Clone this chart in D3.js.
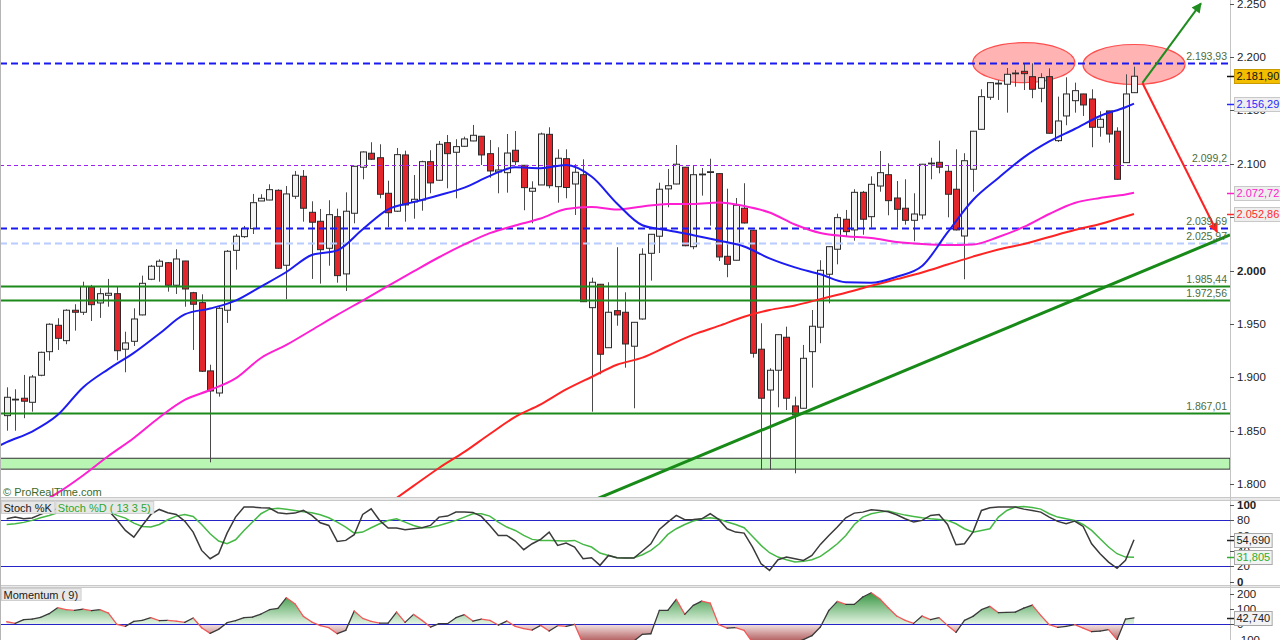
<!DOCTYPE html>
<html>
<head>
<meta charset="utf-8">
<script src="https://cdn.jsdelivr.net/npm/d3@7"></script>
<style>
  html, body { margin: 0; padding: 0; background: #fff; }
  svg { display: block; font-family: "Liberation Sans", Arial, sans-serif; }
</style>
</head>
<body>
<svg id="chart" width="1280" height="640"></svg>
<script>
// ---- Daily candles (index points) ----
const openP = [1864.1,1879.0,1880.4,1876.6,1901.9,1924.0,1948.7,1934.3,1962.8,1960.9,
1984.6,1969.6,1976.8,1978.3,1926.3,1933.7,1958.4,1991.8,2004.0,2007.3,
1986.2,2008.9,1979.2,1969.9,1906.0,1885.3,1962.8,2018.9,2031.7,2039.2,
2065.1,2066.0,2075.1,2004.9,2069.5,2088.2,2054.5,2046.1,2020.8,2050.4,
1996.8,2053.6,2096.7,2109.8,2105.6,2072.3,2055.5,2108.2,2064.2,2066.0,
2101.9,2084.5,2119.7,2110.7,2116.3,2121.3,2125.7,2109.4,2092.3,2091.6,
2112.6,2098.5,2074.2,2080.1,2127.5,2078.5,2104.7,2081.0,2089.7,1965.2,
1987.1,1927.7,1962.4,1960.9,1929.1,1954.6,2016.1,2032.1,2076.4,2081.0,
2096.7,2022.3,2089.8,2092.0,2090.7,2013.3,2009.6,2058.3,2037.7,1926.3,
1888.1,1906.6,1937.5,1873.2,1871.0,1924.0,1946.9,1996.5,2019.9,2048.0,
2038.0,2073.2,2050.4,2079.1,2089.7,2067.9,2058.3,2047.0,2052.0,2099.8,
2101.3,2092.9,2076.1,2032.3,2094.8,2132.2,2162.2,2174.9,2174.4,2184.4,
2186.5,2181.5,2170.6,2181.5,2121.6,2144.7,2159.0,2165.3,2160.6,2134.1,
2149.4,2130.4,2101.0,2166.5];
const highP = [1890.6,1888.8,1902.2,1902.2,1924.0,1950.6,1955.3,1963.7,1968.4,1989.5,
1986.5,1983.4,1992.1,1985.5,1942.7,1964.6,1995.2,2005.2,2010.5,2008.0,
2019.9,2009.0,1980.0,1977.7,1911.8,1966.1,2019.2,2034.2,2041.7,2071.7,
2071.4,2080.7,2076.0,2079.1,2093.2,2094.1,2064.8,2057.6,2065.8,2057.9,
2073.2,2097.9,2111.5,2120.1,2118.2,2084.1,2114.7,2112.2,2089.4,2102.8,
2112.6,2121.3,2126.9,2122.9,2125.3,2136.3,2126.0,2122.2,2115.4,2127.8,
2130.6,2098.8,2083.5,2129.1,2134.1,2113.5,2113.5,2099.5,2104.1,1993.3,
1987.4,1989.0,2021.8,1979.6,1951.8,2020.8,2034.2,2082.2,2095.1,2117.5,
2097.0,2098.5,2096.0,2104.7,2091.0,2076.6,2067.9,2081.7,2038.0,1950.6,
1908.5,1940.1,1947.4,1881.9,1930.3,1963.0,2009.6,2022.5,2053.2,2056.7,
2076.1,2074.5,2088.2,2111.9,2100.4,2083.8,2085.4,2072.3,2099.8,2105.6,
2121.6,2098.8,2113.5,2109.8,2130.7,2169.7,2176.1,2178.4,2189.6,2187.8,
2194.0,2194.0,2184.7,2189.3,2162.8,2180.9,2175.9,2165.5,2169.7,2149.1,
2149.6,2134.1,2183.7,2190.8];
const lowP = [1850.0,1850.0,1861.7,1867.8,1901.0,1915.6,1925.6,1931.0,1943.7,1958.4,
1952.7,1955.6,1966.1,1915.9,1904.7,1929.3,1958.0,1991.0,1989.5,1980.2,
1978.0,1966.1,1925.6,1905.0,1820.4,1881.9,1950.9,2000.8,2030.5,2034.2,
2065.0,2065.8,2001.5,1973.1,2067.0,2045.7,1992.1,1987.7,2004.5,1988.6,
1980.8,2044.2,2085.4,2103.5,2067.6,2040.5,2054.8,2045.7,2048.5,2056.0,
2072.3,2084.0,2077.0,2067.6,2115.7,2121.0,2098.8,2086.9,2072.3,2072.9,
2098.8,2056.4,2044.2,2080.0,2077.0,2063.5,2067.6,2052.0,1970.5,1867.8,
1902.8,1927.5,1948.3,1909.0,1871.0,1954.0,1990.5,2016.4,2059.2,2080.7,
2022.7,2019.9,2070.1,2042.0,2008.9,1993.7,2009.4,2044.0,1918.4,1813.2,
1813.2,1871.9,1869.4,1810.1,1870.8,1890.3,1931.9,1969.3,2005.8,2031.7,
2027.9,2033.5,2040.1,2073.8,2051.7,2040.1,2042.9,2027.4,2048.0,2085.4,
2091.0,2049.8,2037.5,1991.8,2073.8,2132.0,2159.7,2159.7,2147.8,2172.1,
2169.0,2161.3,2157.5,2128.3,2120.3,2136.0,2147.8,2144.7,2115.4,2125.3,
2119.7,2084.8,2100.8,2166.2];
const closeP = [1881.3,1879.5,1877.6,1900.3,1923.4,1949.7,1936.5,1962.8,1960.9,1984.9,
1968.0,1978.3,1978.7,1924.9,1932.2,1954.6,1988.0,2004.0,2008.7,1986.2,
2010.8,1982.7,1968.4,1905.7,1887.2,1964.6,2018.0,2032.1,2039.5,2063.5,
2067.6,2075.7,2002.1,2071.7,2089.2,2058.3,2045.2,2019.5,2052.3,1995.2,
2055.5,2097.6,2111.0,2104.2,2071.4,2054.1,2108.5,2061.4,2066.7,2101.9,
2082.0,2118.2,2109.4,2116.0,2123.2,2126.6,2108.2,2093.2,2094.1,2110.0,
2101.9,2077.6,2077.0,2127.8,2079.4,2105.1,2077.7,2092.0,1970.8,1989.0,
1921.6,1960.9,1958.4,1931.2,1951.5,2015.2,2033.9,2076.1,2079.4,2099.5,
2023.2,2089.7,2090.3,2092.5,2012.7,2005.8,2061.1,2044.5,1922.5,1880.4,
1906.6,1939.9,1880.4,1864.7,1917.8,1947.8,2000.2,2022.3,2049.5,2036.4,
2073.2,2048.0,2080.7,2091.6,2065.4,2057.3,2047.0,2052.9,2099.5,2100.6,
2096.7,2071.4,2038.0,2102.8,2130.4,2162.8,2175.9,2175.4,2183.7,2184.9,
2184.3,2169.7,2180.6,2128.5,2140.0,2165.3,2168.4,2155.0,2134.1,2141.6,
2127.8,2085.4,2165.3,2181.9];

// ---- Moving averages (candle index, value) ----
const ma20Idx = [-1,0,3,6,9,12,15,18,21,24,27,30,33,36,39,42,45,48,51,54,57,60,63,66,69,72,75,78,81,84,87,90,93,96,99,102,105,108,111,114,117,120,123,126,129,132,133];
const ma20Val = [1835.5,1839.3,1849.2,1864.6,1890.5,1907.7,1922.9,1940.8,1958.9,1964.4,1971.8,1985.0,1998.6,2014.5,2018.8,2038.6,2057.3,2064.0,2070.4,2077.6,2088.6,2096.7,2095.8,2098.8,2088.0,2062.8,2042.4,2037.6,2033.1,2028.1,2022.5,2011.3,2002.9,1996.5,1989.0,1988.6,1994.2,2004.2,2035.6,2066.0,2086.6,2105.9,2120.8,2132.5,2144.7,2152.9,2156.29];
const ma50Idx = [5,6,9,12,15,18,21,24,27,30,33,36,39,42,45,48,51,54,57,60,63,66,69,72,75,78,81,84,87,90,93,96,99,102,105,108,111,114,117,120,123,126,129,132,133];
const ma50Val = [1787.0,1791.7,1808.1,1826.3,1843.2,1862.4,1878.8,1888.1,1899.0,1918.1,1930.3,1944.3,1958.4,1971.9,1985.5,1999.1,2012.4,2024.4,2035.0,2042.2,2048.7,2057.6,2059.5,2057.1,2060.0,2062.3,2062.3,2063.7,2060.4,2054.3,2043.1,2035.1,2032.1,2030.5,2026.7,2024.8,2023.9,2024.4,2031.4,2040.8,2052.9,2063.2,2067.9,2071.2,2072.72];
const ma100Idx = [46,48,51,54,57,60,63,66,69,72,75,78,81,84,87,90,93,96,99,102,105,108,111,114,117,120,123,126,129,132,133];
const ma100Val = [1787.0,1798.3,1815.1,1830.1,1846.9,1862.9,1874.6,1888.6,1900.3,1911.7,1918.4,1929.3,1939.9,1948.1,1956.7,1963.0,1967.3,1973.2,1979.2,1985.7,1991.9,1998.2,2005.6,2013.0,2019.7,2024.8,2031.4,2037.9,2043.6,2050.6,2052.86];

// ---- Horizontal levels ----
const levels = [2193.93, 2099.2, 2039.69, 2025.97, 1985.44, 1972.56, 1867.01];
const supportBand = [1814.0, 1824.2];

// ---- Drawn annotations (candle index, value) ----
const trendIdx = [92, 116];
const trendVal = [1860.2, 1939.6];
const arrowIdx = [134, 140.9, 142.8];       // start, up target, down target
const arrowVal = [2175.6, 2250.2, 2036.1];
const ellipseIdx = [120, 133];
const ellipseVal = [2194.6, 2192.9];

// ---- Stochastic (13 3 5) ----
const stochK = [82,84.2,82,83,87.7,92,95,95,93,96,
97,95,92.9,80.7,66.8,58.1,73.3,87.7,94.2,89.9,
87.7,79,64.6,40.7,29.9,36.4,63.3,84.2,97.3,97.3,
96.4,96,89.9,88.6,89.4,92.9,86.4,76.8,73.3,52.5,
53.8,61.2,87.7,95.1,79.9,69.9,69.9,67.7,69,70.3,
73.3,84.2,85.5,90.7,90.7,90.3,85.1,73.3,60.3,60.3,
52.9,41.6,49.4,55.1,64.6,47.3,50.3,45.1,29.9,31.2,
21.2,34.2,31.2,30.7,30.7,39.9,49.4,68.1,77.7,86.4,
80.7,81.2,82,88.6,81.2,69,64.6,63.3,45.1,23.3,
14.6,28.6,32,29.9,27.7,34.2,48.6,60.3,71.2,83.3,
89.4,90.7,93.8,92.9,91.2,87.3,82,77.7,79.9,86.4,
87.7,74.6,48.1,49.4,64.6,92.9,96.4,97.3,97.3,97.3,
94.6,92.9,90.7,84.2,78.6,75.5,79,72,49.4,36.4,
25.5,17.3,27.7,54.69];
const stochD = [74.6,75.5,77.3,79.9,83.3,86.4,89.9,91,93,94,
95,94,92,86.4,82.9,76.4,72,71.2,74.6,80.7,
85.5,87.7,85.1,74.6,62.5,52.9,49.4,54.6,66.8,77.7,
88.6,94.6,95.9,94.6,92.9,91.2,89.9,87.3,83.3,77.7,
71.2,63.3,64.6,70.3,75.5,79.9,82,77.7,73.3,70.3,
70.7,73.3,76.4,79.9,84.2,88.6,88.6,85.5,77.7,71.2,
66.8,60.3,55.1,53.8,53.8,53.3,52.9,53.8,48.6,45.1,
37.3,34.2,31.2,30.7,31.2,35.1,40.7,49.4,61.6,69,
74.6,79,82,83.3,81.6,77.7,74.6,70.3,59,47.3,
37.7,32,28.6,25.5,26.4,28.6,32.9,40.7,49.4,60.3,
74.6,84.2,88.6,90.7,92,89.4,86.8,85.1,83.3,82,
81.2,79.9,75.5,69,64.6,66.8,69,84.2,92.9,97.3,
98.1,96.8,94.6,88.6,84.2,82,79.9,74.6,66.8,56,
45.1,36.4,32,31.805];
const stochBands = [80, 20];
const stochTicks = [0, 20, 40, 60, 80, 100];

// ---- Momentum (9) ----
const momentum = [17,6.3,30.5,35,46,70,109.6,96.4,92,100.8,
89.8,96.4,74.4,0,-13.4,19.5,26.1,43.7,23.9,26.1,
21.7,12.9,41.5,-22.2,-59.6,-33.2,10.8,23.9,43.7,48.1,
67.9,96.4,105.2,175.5,136,52.5,15.1,-9,-22.2,-61.8,
-39.8,87.6,39.3,19.5,8.5,8.5,81,12.9,65.7,26.1,
-17.8,4.1,4.1,43.7,63.5,21.7,35,26.1,-4.7,21.7,
-13.4,-28.8,-37.6,-6.9,-44.2,-9,-13.4,0,-128,-150,
-160,-155,-140,-120,-110,-66,-62,92,92,164.5,
65.7,125,153.5,140.4,-2.5,-24.4,-22.2,-39.8,-120,-150,
-170,-165,-140,-120,-101,-75,-17.8,92,151.3,131.6,
131.6,180,208.5,169,109.6,54.7,26.1,6.3,54.7,30.5,
43.7,-6.9,-53,26.1,52.5,96.4,118.4,76.6,78.8,81,
107.4,127.2,59.1,-2.5,-20,-13.4,-2.5,-24.4,-48.6,-44.2,
-35.4,-101,35,42.74];
const momTicks = [-100, 0, 100, 200];

const priceTicks = [1800, 1850, 1900, 1950, 2000, 2050, 2100, 2150, 2200, 2250];

// ---------------- layout ----------------
const svg = d3.select("#chart");
const plotR = 1230;
const mainP = { top: 0, bottom: 497 };
const stochP = { top: 501, bottom: 585 };
const momP = { top: 588, bottom: 640 };

const x = d3.scaleLinear().domain([0, 133]).range([6.7, 1134]);
const y = d3.scaleLinear().domain([1800, 2250]).range([484.1, 3.5]);
const yS = d3.scaleLinear().domain([0, 100]).range([581.6, 505]);
const yM = d3.scaleLinear().domain([-100, 200]).range([639.5, 594]);

const loc = d3.formatLocale({ decimal: ",", thousands: ".", grouping: [3], currency: ["", ""], minus: "-" });
const fAxis = loc.format(",.0f");
const fLevel = loc.format(",.2~f");
const fTag2 = loc.format(",.2f");
const fTag3 = loc.format(",.3f");

const defs = svg.append("defs");
function clip(id, top, bottom) {
  defs.append("clipPath").attr("id", id).append("rect")
    .attr("x", 0).attr("y", top).attr("width", plotR).attr("height", bottom - top);
}
clip("clipMain", mainP.top, mainP.bottom);
clip("clipStoch", stochP.top, stochP.bottom);
clip("clipMom", momP.top, momP.bottom);

// gradients for momentum fills
const gUp = defs.append("linearGradient").attr("id", "momUp")
  .attr("gradientUnits", "userSpaceOnUse").attr("x1", 0).attr("x2", 0)
  .attr("y1", yM(200)).attr("y2", yM(0));
gUp.append("stop").attr("offset", 0).attr("stop-color", "#3f9a48");
gUp.append("stop").attr("offset", 1).attr("stop-color", "#e4f4e4");
const gDn = defs.append("linearGradient").attr("id", "momDn")
  .attr("gradientUnits", "userSpaceOnUse").attr("x1", 0).attr("x2", 0)
  .attr("y1", yM(0)).attr("y2", yM(-100));
gDn.append("stop").attr("offset", 0).attr("stop-color", "#f3e2e2");
gDn.append("stop").attr("offset", 1).attr("stop-color", "#b86a6a");

// arrow heads
function marker(id, color) {
  defs.append("marker").attr("id", id).attr("viewBox", "0 0 10 10")
    .attr("refX", 9).attr("refY", 5).attr("markerWidth", 12).attr("markerHeight", 10)
    .attr("markerUnits", "userSpaceOnUse").attr("orient", "auto")
    .append("path").attr("d", "M0,0 L10,5 L0,10 z").attr("fill", color);
}
marker("headGreen", "#1e8c1e");
marker("headRed", "#ff2020");

svg.append("rect").attr("width", 1280).attr("height", 640).attr("fill", "#fff");

// ---------------- main price panel ----------------
const gMain = svg.append("g").attr("clip-path", "url(#clipMain)");

// ellipses marking the double top area
gMain.selectAll("ellipse").data(ellipseIdx).join("ellipse")
  .attr("cx", (d) => x(d)).attr("cy", (d, k) => y(ellipseVal[k]))
  .attr("rx", 51).attr("ry", 20)
  .attr("fill", "#ffb3b3").attr("stroke", "#ff4d4d").attr("stroke-width", 1.2);

// support band
gMain.append("rect")
  .attr("x", 0).attr("width", plotR)
  .attr("y", y(supportBand[1])).attr("height", y(supportBand[0]) - y(supportBand[1]))
  .attr("fill", "#b9f5b3").attr("stroke", "#333").attr("stroke-width", 1);

// candles
const candles = openP.map((o, i) => ({ i, o, h: highP[i], l: lowP[i], c: closeP[i] }));
const cx = (i) => Math.round(x(i)) + 0.5;
gMain.append("g").selectAll("line").data(candles).join("line")
  .attr("x1", (d) => cx(d.i)).attr("x2", (d) => cx(d.i))
  .attr("y1", (d) => y(d.h)).attr("y2", (d) => y(d.l))
  .attr("stroke", "#4a4a4a").attr("stroke-width", 1);
gMain.append("g").selectAll("rect").data(candles).join("rect")
  .attr("x", (d) => cx(d.i) - 3).attr("width", 6)
  .attr("y", (d) => y(Math.max(d.o, d.c)))
  .attr("height", (d) => Math.max(0.8, Math.abs(y(d.o) - y(d.c))))
  .attr("fill", (d) => (d.c >= d.o ? "#f2f2f2" : "#e3262b"))
  .attr("stroke", "#2b2b2b").attr("stroke-width", 1);

// horizontal levels
const levelStyle = [
  { stroke: "#1a1aee", width: 2, dash: "7,4" },
  { stroke: "#a020f0", width: 1.2, dash: "4,3" },
  { stroke: "#1a1aee", width: 2, dash: "7,4" },
  { stroke: "#b8ccff", width: 2, dash: "7,4" },
  { stroke: "#1b8a1b", width: 2, dash: null },
  { stroke: "#1b8a1b", width: 2, dash: null },
  { stroke: "#1b8a1b", width: 2, dash: null },
];
gMain.append("g").selectAll("line").data(levels).join("line")
  .attr("x1", 0).attr("x2", plotR)
  .attr("y1", (d) => Math.round(y(d)) + 0.5).attr("y2", (d) => Math.round(y(d)) + 0.5)
  .attr("stroke", (d, k) => levelStyle[k].stroke)
  .attr("stroke-width", (d, k) => levelStyle[k].width)
  .attr("stroke-dasharray", (d, k) => levelStyle[k].dash);

// moving averages
function maLine(idx, vals, color) {
  const pts = idx.map((d, k) => [x(d), y(vals[k])]);
  gMain.append("path").attr("d", d3.line().curve(d3.curveMonotoneX)(pts))
    .attr("fill", "none").attr("stroke", color).attr("stroke-width", 2);
}
maLine(ma100Idx, ma100Val, "#ff2424");
maLine(ma50Idx, ma50Val, "#ff1fd2");
maLine(ma20Idx, ma20Val, "#1c1cf0");

// rising trend line through two anchors, extended across the panel
const slope = (trendVal[1] - trendVal[0]) / (trendIdx[1] - trendIdx[0]);
const tv = (i) => trendVal[0] + (i - trendIdx[0]) * slope;
const iEnd = x.invert(plotR);
gMain.append("line")
  .attr("x1", x(60)).attr("y1", y(tv(60)))
  .attr("x2", x(iEnd)).attr("y2", y(tv(iEnd)))
  .attr("stroke", "#178a17").attr("stroke-width", 3);

// scenario arrows
gMain.append("line")
  .attr("x1", x(arrowIdx[0])).attr("y1", y(arrowVal[0]))
  .attr("x2", x(arrowIdx[1])).attr("y2", y(arrowVal[1]))
  .attr("stroke", "#1e8c1e").attr("stroke-width", 2).attr("marker-end", "url(#headGreen)");
gMain.append("line")
  .attr("x1", x(arrowIdx[0])).attr("y1", y(arrowVal[0]))
  .attr("x2", x(arrowIdx[2])).attr("y2", y(arrowVal[2]))
  .attr("stroke", "#ff2020").attr("stroke-width", 2).attr("marker-end", "url(#headRed)");

// level labels
svg.append("g").selectAll("text").data(levels).join("text")
  .attr("x", 1227).attr("y", (d) => y(d) - 3)
  .attr("text-anchor", "end").attr("font-size", 10.5).attr("fill", "#4d6d3c")
  .text((d) => fLevel(d));

svg.append("text").attr("x", 3).attr("y", 495.5)
  .attr("font-size", 11).attr("fill", "#3b6b2b").text("© ProRealTime.com");

// ---------------- stochastic panel ----------------
const gSt = svg.append("g").attr("clip-path", "url(#clipStoch)");
gSt.selectAll("line").data(stochBands).join("line")
  .attr("x1", 0).attr("x2", plotR)
  .attr("y1", (d) => Math.round(yS(d)) + 0.5).attr("y2", (d) => Math.round(yS(d)) + 0.5)
  .attr("stroke", "#2424c8").attr("stroke-width", 1.2);
const lineS = d3.line().x((d, i) => x(i)).y((d) => yS(d));
gSt.append("path").attr("d", lineS(stochD)).attr("fill", "none")
  .attr("stroke", "#45b845").attr("stroke-width", 1.5);
gSt.append("path").attr("d", lineS(stochK)).attr("fill", "none")
  .attr("stroke", "#3a3a3a").attr("stroke-width", 1.5);

// ---------------- momentum panel ----------------
const gMo = svg.append("g").attr("clip-path", "url(#clipMom)");
const areaM = d3.area().x((d, i) => x(i)).y0(yM(0)).y1((d) => yM(d));
defs.append("clipPath").attr("id", "clipPos").append("rect")
  .attr("x", 0).attr("y", momP.top).attr("width", plotR).attr("height", yM(0) - momP.top);
defs.append("clipPath").attr("id", "clipNeg").append("rect")
  .attr("x", 0).attr("y", yM(0)).attr("width", plotR).attr("height", momP.bottom - yM(0));
gMo.append("g").attr("clip-path", "url(#clipPos)").append("path")
  .attr("d", areaM(momentum)).attr("fill", "url(#momUp)");
gMo.append("g").attr("clip-path", "url(#clipNeg)").append("path")
  .attr("d", areaM(momentum)).attr("fill", "url(#momDn)");
gMo.append("line").attr("x1", 0).attr("x2", plotR)
  .attr("y1", Math.round(yM(0)) + 0.5).attr("y2", Math.round(yM(0)) + 0.5)
  .attr("stroke", "#2424c8").attr("stroke-width", 1.2);
const segs = d3.pairs(momentum.map((v, i) => ({ i, v })));
gMo.append("g").selectAll("line").data(segs).join("line")
  .attr("x1", (d) => x(d[0].i)).attr("y1", (d) => yM(d[0].v))
  .attr("x2", (d) => x(d[1].i)).attr("y2", (d) => yM(d[1].v))
  .attr("stroke", (d) => (d[1].v >= d[0].v ? "#3a3a3a" : "#ef5a5a"))
  .attr("stroke-width", 1.3).attr("stroke-linecap", "round");

// ---------------- frames and separators ----------------
function separator(y0, y1) {
  svg.append("rect").attr("x", 0).attr("y", y0).attr("width", 1280).attr("height", y1 - y0)
    .attr("fill", "#e9e9e9");
  svg.append("line").attr("x1", 0).attr("x2", 1280).attr("y1", y0 + 0.5).attr("y2", y0 + 0.5)
    .attr("stroke", "#c9c9c9");
  svg.append("line").attr("x1", 0).attr("x2", 1280).attr("y1", y1 - 0.5).attr("y2", y1 - 0.5)
    .attr("stroke", "#c9c9c9");
}
separator(mainP.bottom, stochP.top);
separator(stochP.bottom, momP.top);
svg.append("line").attr("x1", plotR + 0.5).attr("x2", plotR + 0.5).attr("y1", 0).attr("y2", 640)
  .attr("stroke", "#c4c4c4");
svg.append("line").attr("x1", 0.5).attr("x2", 0.5).attr("y1", 0).attr("y2", 640)
  .attr("stroke", "#b5b5b5");

// ---------------- right axes ----------------
function rightAxis(scale, ticks, fmt, boldVals) {
  const g = svg.append("g");
  g.selectAll("line").data(ticks).join("line")
    .attr("x1", plotR).attr("x2", plotR + 4)
    .attr("y1", (d) => Math.round(scale(d)) + 0.5).attr("y2", (d) => Math.round(scale(d)) + 0.5)
    .attr("stroke", "#555");
  g.selectAll("text").data(ticks).join("text")
    .attr("x", plotR + 7).attr("y", (d) => scale(d)).attr("dy", "0.35em")
    .attr("font-size", 11.5).attr("fill", "#222")
    .attr("font-weight", (d) => (boldVals.includes(d) ? "bold" : "normal"))
    .text((d) => fmt(d));
}
rightAxis(y, priceTicks, fAxis, [2000]);
rightAxis(yS, stochTicks, d3.format("d"), [0, 100]);
rightAxis(yM, momTicks, loc.format("d"), []);

// value tags on the axis, sized to their text
function tag(val, scale, text, fg, bg, border) {
  const yy = scale(val);
  svg.append("line").attr("x1", plotR - 3).attr("x2", plotR + 4)
    .attr("y1", Math.round(yy) + 0.5).attr("y2", Math.round(yy) + 0.5)
    .attr("stroke", fg).attr("stroke-width", 1.5);
  const box = svg.append("rect").attr("x", plotR + 4.5).attr("y", Math.round(yy) - 6.5)
    .attr("height", 14).attr("fill", bg).attr("stroke", border).attr("stroke-width", 1);
  const t = svg.append("text").attr("x", plotR + 6.5).attr("y", yy).attr("dy", "0.36em")
    .attr("font-size", 11).attr("fill", fg).text(text);
  box.attr("width", t.node().getComputedTextLength() + 4);
}
const last = closeP.length - 1;
tag(ma100Val[ma100Val.length - 1], y, fTag2(ma100Val[ma100Val.length - 1]), "#ff2a2a", "#eeeeee", "#c8c8c8");
tag(ma50Val[ma50Val.length - 1], y, fTag2(ma50Val[ma50Val.length - 1]), "#ff22cc", "#eeeeee", "#c8c8c8");
tag(ma20Val[ma20Val.length - 1], y, fTag2(ma20Val[ma20Val.length - 1]), "#2a2aff", "#eeeeee", "#c8c8c8");
tag(closeP[last], y, fTag2(closeP[last]), "#111", "#f3bd00", "#c99a00");
tag(stochK[last], yS, fTag3(stochK[last]), "#222", "#f3f3f3", "#a8a8a8");
tag(stochD[last], yS, fTag3(stochD[last]), "#2fae2f", "#f3f3f3", "#a8a8a8");
tag(momentum[last], yM, fTag3(momentum[last]), "#222", "#f3f3f3", "#a8a8a8");

// ---------------- panel titles ----------------
function titleBox(x0, y0, text, color) {
  const box = svg.append("rect").attr("x", x0 + 0.5).attr("y", y0 + 0.5).attr("height", 12)
    .attr("fill", "#e7e7e7").attr("stroke", "#cfcfcf");
  const t = svg.append("text").attr("x", x0 + 2.5).attr("y", y0 + 10.5)
    .attr("font-size", 11).attr("fill", color).text(text);
  const w = t.node().getComputedTextLength() + 5;
  box.attr("width", w);
  return x0 + w + 1;
}
const nextX = titleBox(1, 501, "Stoch %K", "#1a1a1a");
titleBox(nextX, 501, "Stoch %D ( 13 3 5)", "#2ea82e");
titleBox(1, 588, "Momentum ( 9)", "#1a1a1a");
</script>
</body>
</html>
